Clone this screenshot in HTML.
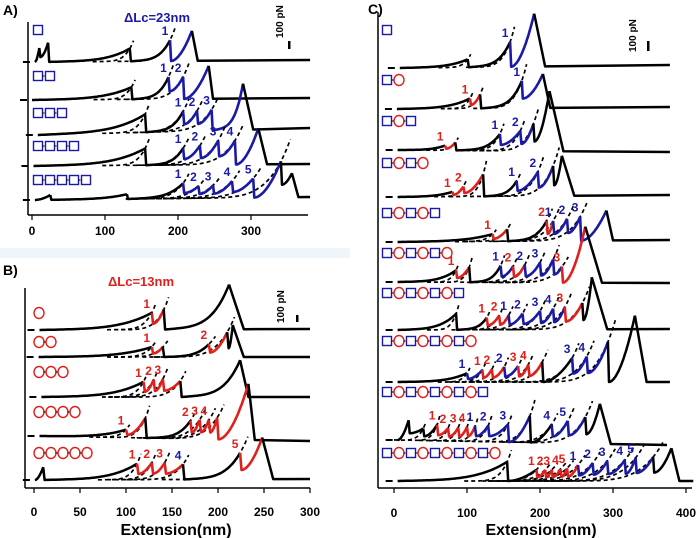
<!DOCTYPE html>
<html><head><meta charset="utf-8"><style>
html,body{margin:0;padding:0;background:#fff;}
svg{display:block;font-family:"Liberation Sans",Arial,sans-serif;}
</style></head><body>
<svg id="fig" width="700" height="538" viewBox="0 0 700 538" xmlns="http://www.w3.org/2000/svg">
<rect x="0" y="248" width="350" height="10" fill="#eef6fb"/>
<g id="static" font-weight="bold">
 <text x="3" y="15" font-size="14">A)</text>
 <text x="3" y="275" font-size="14">B)</text>
 <text x="368" y="14" font-size="14">C)</text>
 <text x="157" y="22" font-size="13" fill="#1a1aa6" text-anchor="middle">ΔLc=23nm</text>
 <text x="141" y="286" font-size="13" fill="#e0201b" text-anchor="middle">ΔLc=13nm</text>
 <text transform="translate(283,38) rotate(-90)" font-size="10">100 pN</text>
 <rect x="288" y="41" width="2.5" height="8" fill="#000"/>
 <text transform="translate(284,323) rotate(-90)" font-size="10">100 pN</text>
 <rect x="296" y="315" width="2.5" height="7" fill="#000"/>
 <text transform="translate(636,52) rotate(-90)" font-size="10">100 pN</text>
 <rect x="647" y="41" width="2.5" height="10" fill="#000"/>
 <text x="176" y="535" font-size="16" text-anchor="middle">Extension(nm)</text>
 <text x="541" y="535" font-size="16" text-anchor="middle">Extension(nm)</text>
</g>
<g id="plot"></g>
</svg>
<script>
// ---------- data ----------
const ticksA = [0,100,200,300];
const ticksB = [0,50,100,150,200,250,300];
const ticksC = [0,100,200,300,400];
const startsA = [4,0,8,2,4];
const dropsA = [227,248,303,322,365];
const peaksA = [
 [[10,175,'k'],[22,240,'k'],[134,160,'k'],[189,260,'k','1'],[219,375,'b']],
 [[136,150,'k'],[187,275,'k','1'],[207,275,'b','2'],[242,410,'b']],
 [[155,225,'k'],[207,250,'k','1'],[226,250,'b','2'],[246,260,'b','3'],[289,575,'b']],
 [[155,210,'k'],[207,210,'k','1'],[230,240,'b','2'],[255,300,'b','3'],[278,300,'b','4'],[310,450,'b']],
 [[25,60,'k'],[130,60,'k'],[207,190,'k','1'],[228,150,'b','2'],[248,160,'b','3'],[274,210,'b','4'],[303,240,'b','5'],[341,450,'b'],[356,300,'k']]
];
const modulesA = ['S','SS','SSS','SSSS','SSSSS'];

const startsB = [6,5,8,6,1];
const dropsB = [228,228,233,240,260];
const peaksB = [
 [[128,210,'k','1'],[141,250,'r'],[212,560,'k']],
 [[128,125,'k','1'],[140,125,'r'],[190,160,'k','2'],[210,310,'r'],[216,400,'k']],
 [[119,190,'k','1'],[130,215,'r','2'],[140,225,'r','3'],[159,200,'r'],[224,460,'k']],
 [[100,100,'k','1'],[121,250,'r'],[170,225,'k','2'],[180,240,'r','3'],[190,240,'r','4'],[199,270,'r'],[233,700,'r']],
 [[10,160,'k'],[112,200,'k','1'],[128,210,'r','2'],[142,210,'r','3'],[162,190,'r','4'],[224,330,'k','5'],[248,520,'r']]
];
const modulesB = ['O','OO','OOO','OOOO','OOOOO'];

const startsC = [8,4,5,5,5,5,5,5,5,5];
const endsC = [378,378,378,378,378,378,378,378,374,410];
const dropsC = [207,214,232,247,300,285,292,346,297,391];
const peaksC = [
 [[101,100,'k'],[159,310,'k','1'],[192,660,'b']],
 [[104,125,'k','1'],[118,175,'r'],[175,340,'k','1'],[204,425,'b']],
 [[70,60,'k','1'],[84,100,'r'],[145,210,'k','1'],[173,250,'b','2'],[191,340,'b'],[213,750,'k']],
 [[80,60,'k','1'],[95,125,'r','2'],[122,275,'r'],[168,190,'k','1'],[197,300,'b','2'],[218,375,'b'],[230,500,'k']],
 [[135,90,'k','1'],[155,150,'r'],[209,250,'k','2'],[218,250,'r','1'],[237,275,'b','2'],[255,300,'b','3'],[291,375,'b']],
 [[85,150,'k','1'],[103,190,'r'],[146,210,'k','1'],[163,200,'b','2'],[179,220,'r','2'],[200,250,'b','3'],[218,290,'b'],[230,200,'b','3'],[262,700,'r']],
 [[85,200,'k'],[127,150,'k','1'],[144,175,'r','2'],[157,180,'r','1'],[176,200,'b','2'],[200,230,'b','3'],[218,260,'b','4'],[234,280,'b','3'],[258,330,'r'],[271,650,'k']],
 [[100,110,'k','1'],[121,150,'b','1'],[134,160,'r','2'],[151,190,'r','2'],[170,200,'b','3'],[184,220,'r','4'],[203,250,'r'],[244,300,'k','3'],[264,320,'b','4'],[293,500,'b'],[330,830,'k']],
 [[20,250,'k'],[40,150,'k'],[59,200,'k','1'],[74,160,'r','2'],[88,170,'r','3'],[100,180,'r','4'],[111,190,'r','1'],[129,200,'b','2'],[156,220,'b','3'],[186,330,'b'],[216,230,'k','4'],[238,280,'b','5'],[262,330,'b'],[282,500,'k']],
 [[155,240,'k'],[195,140,'k','1'],[207,140,'r','2'],[216,140,'r','3'],[228,150,'r','4'],[237,160,'r','5'],[252,200,'r','1'],[272,225,'b','2'],[292,250,'b','3'],[316,260,'b','4'],[331,290,'b','5'],[355,300,'b'],[380,410,'k']]
];
const modulesC = ['S','SO','SOS','SOSO','SOSOS','SOSOSO','SOSOSOS','SOSOSOSO','SOSOSOSOS','SOSOSOSOSO'];

// ---------- layout (pixels) ----------
const layA = {x0:32, k:0.73, axX:28, axY:215, top:22, right:308, tickY:235, rowR:[60,98,128,164,197], rowL:[62,100,135,166,200], glyphY:[30,76,113,146,180], glyphX:33};
const layB = {x0:34, k:0.92, axX:25, axY:488, top:288, right:310, tickY:516, rowR:[329,357,397,441,479], rowL:[330,357,397,436,480], glyphY:[313,342,372,412,453], glyphX:34};
const layC = {x0:394, k:0.73, axX:378, axY:488, top:12, right:692, tickY:517, rowR:[65,107,152,195,240,283,329,382,445,481], rowL:[68,109,150,197,242,282,330,382,440,481], glyphY:[30,80,121,163,213,253,293,341,392,453], glyphX:382};
const S = 0.08; // px per pN
const COL = {k:'#000', b:'#1a1aa6', r:'#e0201b'};
const NS = 'http://www.w3.org/2000/svg';
const plot = document.getElementById('plot');

function mk(tag, attrs, parent){
  const el = document.createElementNS(NS, tag);
  for (const a in attrs) el.setAttribute(a, attrs[a]);
  (parent||plot).appendChild(el);
  return el;
}

function drawAxes(L, ticks, name){
  const g = mk('g', {});
  
  
  const ya = mk('line', {x1:L.axX, y1:L.top, x2:L.axX, y2:L.axY, stroke:'#000','stroke-width':1.5}, g);
  
  
  const xa = mk('line', {x1:L.axX, y1:L.axY, x2:L.right, y2:L.axY, stroke:'#000','stroke-width':1.5}, g);
  
  
  ticks.forEach(t=>{
    const x = L.x0 + L.k*t;
    const tk = mk('line', {x1:x, y1:L.axY, x2:x, y2:L.axY+5, stroke:'#000','stroke-width':1.2}, g);
    
    
    const tx = mk('text', {x:x, y:L.tickY, 'font-size':12, 'font-weight':'bold', 'text-anchor':'middle'}, g);
    tx.textContent = t;
    
    
  });
}

function drawGlyphs(L, mods, name){
  mods.forEach((seq,i)=>{
    const g = mk('g', {});
    
    
    const y = L.glyphY[i];
    for (let j=0;j<seq.length;j++){
      const cx = L.glyphX + 5 + j*12;
      if (seq[j]==='S') mk('rect', {x:cx-4.5, y:y-4.5, width:9, height:9, fill:'none', stroke:COL.b, 'stroke-width':1.4}, g);
      else mk('ellipse', {cx:cx, cy:y, rx:5, ry:5.5, fill:'none', stroke:COL.r, 'stroke-width':1.4}, g);
      if (j>0) mk('line', {x1:cx-7.5, y1:y, x2:cx-5.5, y2:y, stroke:'#000','stroke-width':1}, g);
    }
  });
}

function drawTrace(L, idx, start, end, drop, peaks, name){
  const X = nm => L.x0 + L.k*nm;
  const base = nm => L.rowL[idx] + (L.rowR[idx]-L.rowL[idx])*(nm-start)/Math.max(1,end-start);
  const Y = (nm,f) => base(nm) - f*S;
  const g = mk('g', {});
  
  
  peaks.forEach((p,i)=>{
    if (i===peaks.length-1 || p[0]<40 || p[1]<90) return;
    const D = Math.max(40, 0.38*p[0]);
    const x0 = p[0]-D;
    let d = '';
    for (let t=0; t<=1.1001; t+=0.02){
      const nm = x0 + t*D;
      const f = p[1]*Math.pow(t,5);
      d += (d?'L':'M') + X(nm).toFixed(1) + ',' + Y(nm,f).toFixed(1);
    }
    const fit = mk('path', {d:d, fill:'none', stroke:'#000', 'stroke-width':1.7, 'stroke-dasharray':'4 3'}, g);
    
    
  });
  mk('line', {x1:X(start)-12, y1:base(start), x2:X(start)-5, y2:base(start), stroke:'#000','stroke-width':2}, g);
  let px = start, pf = 0;
  let rx = start, rf = 0;
  peaks.forEach((p,i)=>{
    const gap = p[0]-rx;
    const long = gap>40;
    let d = 'M' + X(px).toFixed(1) + ',' + Y(px,pf).toFixed(1) + 'L' + X(rx).toFixed(1) + ',' + Y(rx,rf).toFixed(1);
    for (let nm = rx; nm <= p[0]; nm += 1){
      const t = (nm-rx)/Math.max(1,gap);
      const sh = long ? (0.12*t + 0.88*Math.pow(t,4)) : Math.pow(t,1.8);
      d += 'L' + X(nm).toFixed(1) + ',' + Y(nm, rf + (p[1]-rf)*sh).toFixed(1);
    }
    d += 'L' + X(p[0]).toFixed(1) + ',' + Y(p[0],p[1]).toFixed(1);
    const seg = mk('path', {d:d, fill:'none', stroke:COL[p[2]], 'stroke-width':p[2]==='k'?2.5:2.6, 'stroke-linejoin':'round'}, g);
    
    
    if (p[3]){
      const nxt = peaks[i+1];
      const c = nxt ? COL[nxt[2]] : COL[p[2]];
      const lb = mk('text', {x:X(p[0])-5, y:Y(p[0],p[1])-5, 'font-size':12, 'font-weight':'bold', fill:c==='#000'?COL.b:c, 'text-anchor':'middle'}, g);
      lb.textContent = p[3];
      
      
    }
    px = p[0]; pf = p[1];
    const nxt = peaks[i+1];
    if (nxt){
      rx = p[0] + 1.5;
      rf = (nxt[0]-p[0] < 30) ? p[1]*0.35 : 0;
    }
  });
  const fin = 'M' + X(px).toFixed(1) + ',' + Y(px,pf).toFixed(1) + 'L' + X(drop).toFixed(1) + ',' + base(drop).toFixed(1) + 'L' + X(end).toFixed(1) + ',' + base(end).toFixed(1);
  const tail = mk('path', {d:fin, fill:'none', stroke:'#000', 'stroke-width':2.5, 'stroke-linejoin':'round'}, g);
  
  
}

drawAxes(layA, ticksA, 'panel-a');
drawAxes(layB, ticksB, 'panel-b');
drawAxes(layC, ticksC, 'panel-c');
drawGlyphs(layA, modulesA, 'panel-a');
drawGlyphs(layB, modulesB, 'panel-b');
drawGlyphs(layC, modulesC, 'panel-c');
peaksA.forEach((pk,i)=>drawTrace(layA, i, startsA[i], 381, dropsA[i], pk, 'panel-a'));
peaksB.forEach((pk,i)=>drawTrace(layB, i, startsB[i], 300, dropsB[i], pk, 'panel-b'));
peaksC.forEach((pk,i)=>drawTrace(layC, i, startsC[i], endsC[i], dropsC[i], pk, 'panel-c'));
</script>
</body></html>
